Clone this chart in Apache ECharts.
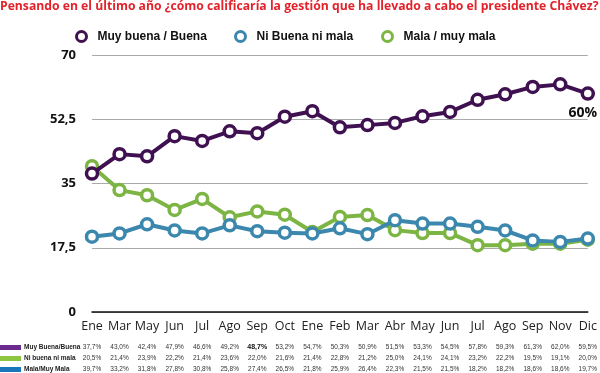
<!DOCTYPE html>
<html><head><meta charset="utf-8">
<script src="https://cdn.jsdelivr.net/npm/echarts@6/dist/echarts.min.js"></script>
<style>html,body{margin:0;padding:0;background:#fff}#c{width:600px;height:373px}</style>
</head><body><div id="c"></div>
<script>
var categories = ['Ene','Mar','May','Jun','Jul','Ago','Sep','Oct','Ene','Feb','Mar','Abr','May','Jun','Jul','Ago','Sep','Nov','Dic'];
var muyBuena = [37.7,43.0,42.4,47.9,46.6,49.2,48.7,53.2,54.7,50.3,50.9,51.5,53.3,54.5,57.8,59.3,61.3,62.0,59.5];
var niBuena = [20.5,21.4,23.9,22.2,21.4,23.6,22.0,21.6,21.4,22.8,21.2,25.0,24.1,24.1,23.2,22.2,19.5,19.1,20.0];
var mala = [39.7,33.2,31.8,27.8,30.8,25.8,27.4,26.5,21.8,25.9,26.4,22.3,21.5,21.5,18.2,18.2,18.6,18.6,19.7];
var yTicks = [0,17.5,35,52.5,70];
var seriesNames = ['Muy buena / Buena','Ni Buena ni mala','Mala / muy mala'];
var tableNames = ['Muy Buena/Buena','Ni buena ni mala','Mala/Muy Mala'];
var boldCell = [0,6];

var cPurple='#3f1150', cBlue='#3b87ae', cGreen='#7cb543';
var sPurple='#6a2a8e', sGreen='#8cc63f', sBlue='#1b75bb';
var font='"Open Sans", sans-serif';
var narrow='"Liberation Sans Narrow","Liberation Sans",sans-serif';
function fmt(v){return v.toFixed(1).replace('.',',')+'%';}

function mkSeries(name,data,color,z){
  return {name:name,type:'line',data:data,z:z,symbol:'circle',symbolSize:11,
    lineStyle:{color:color,width:4},
    itemStyle:{color:'#fff',borderColor:color,borderWidth:3.5},
    emphasis:{disabled:true}};
}
var sP = mkSeries(seriesNames[0],muyBuena,cPurple,5);
sP.label={show:true,position:'bottom',distance:8,offset:[-5,-3],color:'#111',fontFamily:font,fontWeight:'bold',fontSize:14,
  formatter:function(p){return p.dataIndex===categories.length-1?Math.round(p.value)+'%':'';}};
var sB = mkSeries(seriesNames[1],niBuena,cBlue,4);
var sG = mkSeries(seriesNames[2],mala,cGreen,3);

var rows=[muyBuena,niBuena,mala];
var tableAxes = rows.map(function(r,ri){
  return {type:'category',data:categories,boundaryGap:false,position:'bottom',gridIndex:0,
    axisLine:{show:false},axisTick:{show:false},
    axisLabel:{interval:0,margin:32+ri*11,fontSize:6.5,color:'#333',fontFamily:narrow,
      formatter:function(v,i){var t=fmt(r[i]); return (ri===boldCell[0]&&i===boldCell[1])?'{b|'+t+'}':t;},
      rich:{b:{fontWeight:'bold',fontSize:7,color:'#111',fontFamily:narrow}}}};
});

function legendAt(name,left,color){
  return {show:true,left:left,top:30,padding:0,icon:'circle',itemWidth:10,itemHeight:10,itemGap:0,
    data:[{name:name,itemStyle:{color:'#fff',borderColor:color,borderWidth:3}}],
    textStyle:{fontFamily:'"Liberation Sans",sans-serif',fontWeight:'bold',fontSize:12,color:'#111',padding:[0,0,0,6]}};
}
var sw=[sPurple,sGreen,sBlue];
var graphics=[];
tableNames.forEach(function(n,i){
  var y=344+i*11;
  graphics.push({type:'rect',left:0,top:y+1,shape:{width:21,height:5},style:{fill:sw[i]}});
  graphics.push({type:'text',left:24,top:y,style:{text:n,fontSize:6.5,fontWeight:'bold',fill:'#222',fontFamily:narrow}});
});

var chart=echarts.init(document.getElementById('c'),null,{renderer:'canvas'});
chart.setOption({
  animation:false,
  title:{text:'Pensando en el último año ¿cómo calificaría la gestión que ha llevado a cabo el presidente Chávez?',
    left:0,top:1,padding:0,textStyle:{color:'#e3232b',fontSize:12.2,fontWeight:'bold',fontFamily:'"Liberation Sans Narrow","Open Sans",sans-serif'}},
  legend:[legendAt(seriesNames[0],75,cPurple),legendAt(seriesNames[1],234,cBlue),legendAt(seriesNames[2],381,cGreen)],
  grid:{left:92,right:9,top:55,bottom:61,containLabel:false},
  xAxis:[{type:'category',data:categories,boundaryGap:false,
    axisLine:{lineStyle:{color:'#111',width:1.5}},axisTick:{show:false},
    axisLabel:{interval:0,margin:8,fontSize:12.5,color:'#222',fontFamily:font}}].concat(tableAxes),
  yAxis:{type:'value',min:0,max:70,interval:17.5,
    axisLine:{show:false},axisTick:{show:false},
    splitLine:{lineStyle:{color:'#aaa',width:1}},
    axisLabel:{margin:16,fontSize:13,fontWeight:'bold',color:'#111',fontFamily:font,
      formatter:function(v){return yTicks.indexOf(v)>=0?String(v).replace('.',','):'';}}},
  graphic:graphics,
  series:[sG,sB,sP]
});
</script></body></html>
